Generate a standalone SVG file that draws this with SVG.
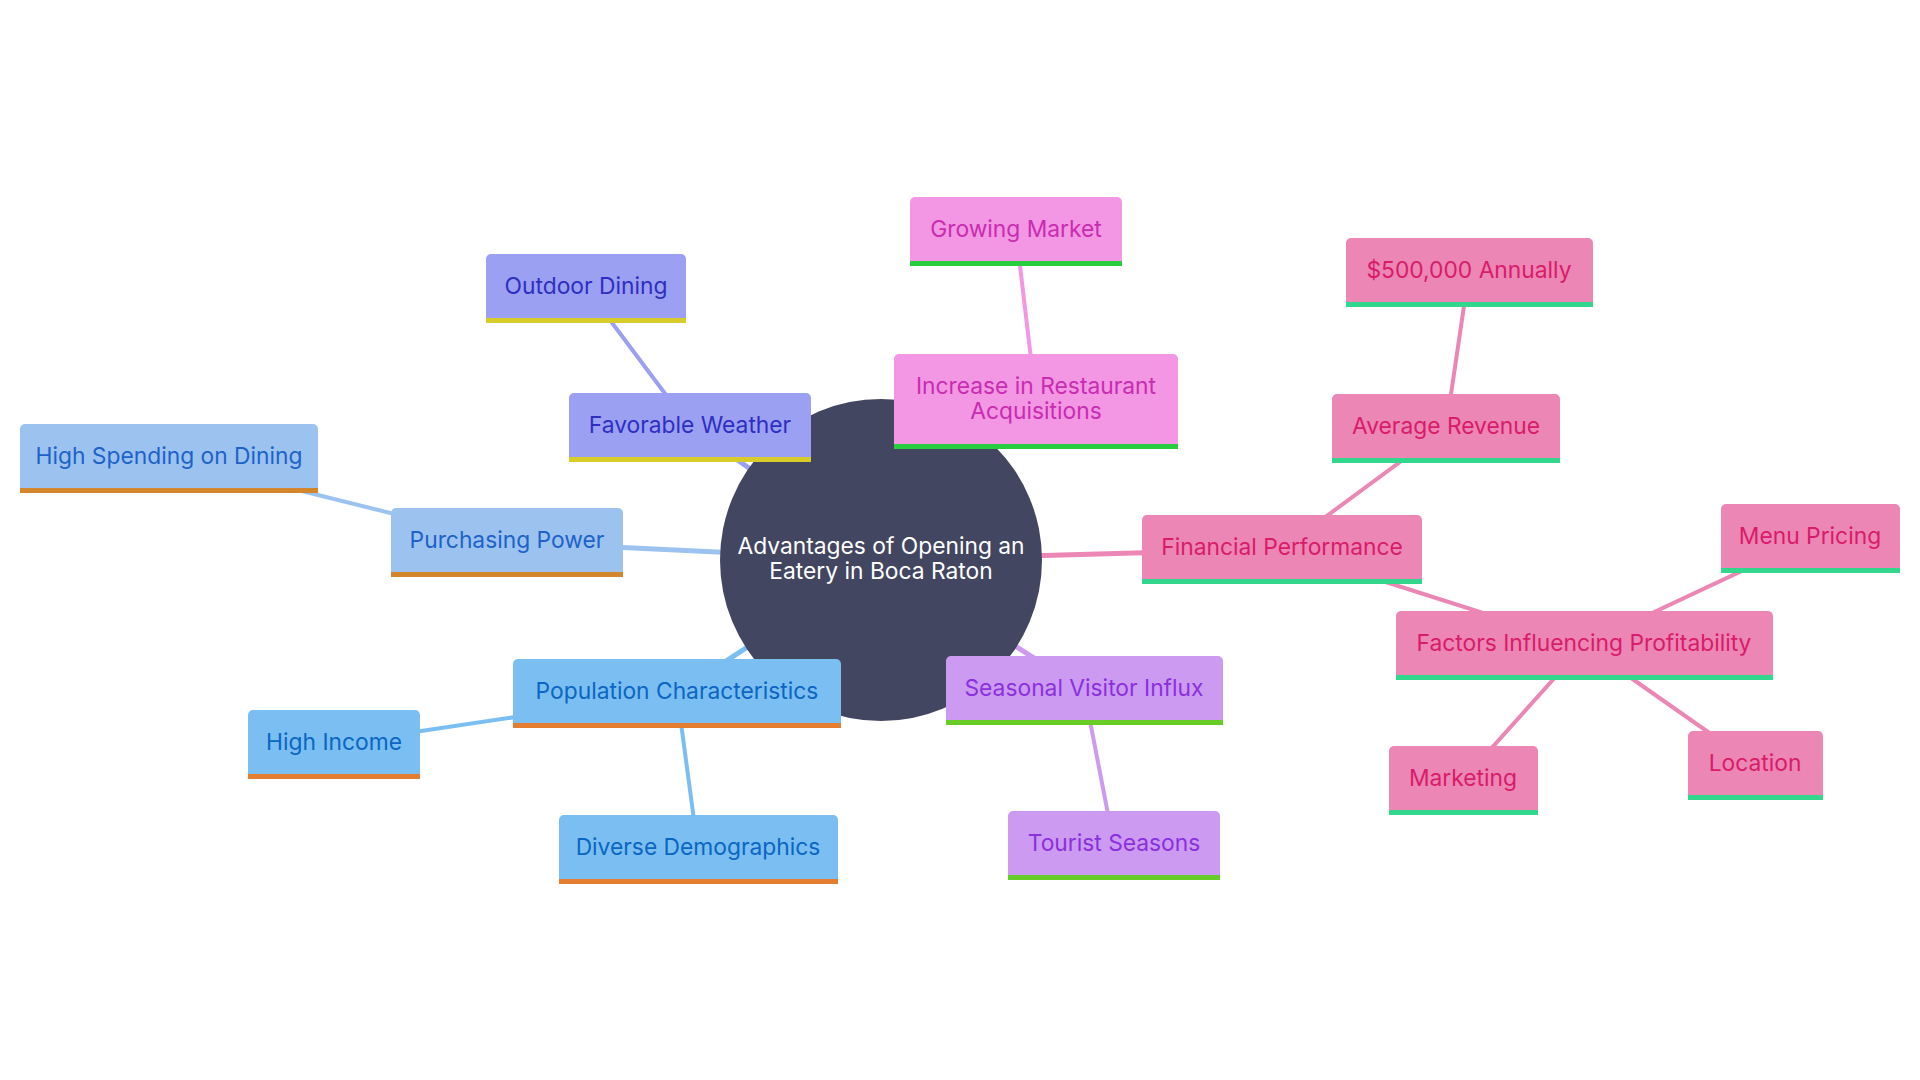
<svg xmlns="http://www.w3.org/2000/svg" width="1920" height="1080" viewBox="0 0 1920 1080">
<style>
text{font-family:Inter,"Open Sans","Liberation Sans",sans-serif;font-size:22.8px;text-anchor:middle;dominant-baseline:central}
.e1{stroke-width:5;stroke-linecap:round;fill:none}
.e2{stroke-width:4;stroke-linecap:round;fill:none}
.w .b{fill:#9ba0f2}.w .s{fill:#d7cc2a}.w text{fill:#2e2ec2}
.p .b{fill:#9cc3ef}.p .s{fill:#d4862d}.p text{fill:#1d62c8}
.c .b{fill:#7bbef2}.c .s{fill:#e57d30}.c text{fill:#0a66c2}
.a .b{fill:#f396e4}.a .s{fill:#27cc3f}.a text{fill:#c82cb0}
.f .b{fill:#ec86b4}.f .s{fill:#32d68c}.f text{fill:#d81b6a}
.v .b{fill:#cd9af2}.v .s{fill:#67cc25}.v text{fill:#8a30dc}
</style>
<rect width="1920" height="1080" fill="#ffffff"/>
<g id="connectors">
<line class="e1" x1="881" y1="560" x2="690" y2="427" stroke="#9ba0f2"/>
<line class="e1" x1="881" y1="560" x2="507" y2="542" stroke="#9cc3ef"/>
<line class="e1" x1="881" y1="560" x2="677" y2="693" stroke="#7bbef2"/>
<line class="e1" x1="881" y1="560" x2="1084" y2="690" stroke="#cd9af2"/>
<line class="e1" x1="881" y1="560" x2="1036" y2="401" stroke="#f396e4"/>
<line class="e1" x1="881" y1="560" x2="1282" y2="549" stroke="#ec86b4"/>
<line class="e2" x1="690" y1="427" x2="586" y2="288" stroke="#9ba0f2"/>
<line class="e2" x1="507" y1="542" x2="169" y2="458" stroke="#9cc3ef"/>
<line class="e2" x1="677" y1="693" x2="334" y2="744" stroke="#7bbef2"/>
<line class="e2" x1="677" y1="693" x2="698" y2="850" stroke="#7bbef2"/>
<line class="e2" x1="1084" y1="690" x2="1114" y2="845" stroke="#cd9af2"/>
<line class="e2" x1="1036" y1="401" x2="1016" y2="232" stroke="#f396e4"/>
<line class="e2" x1="1282" y1="549" x2="1446" y2="428" stroke="#ec86b4"/>
<line class="e2" x1="1446" y1="428" x2="1469" y2="272" stroke="#ec86b4"/>
<line class="e2" x1="1282" y1="549" x2="1584" y2="645" stroke="#ec86b4"/>
<line class="e2" x1="1584" y1="645" x2="1810" y2="539" stroke="#ec86b4"/>
<line class="e2" x1="1584" y1="645" x2="1463" y2="780" stroke="#ec86b4"/>
<line class="e2" x1="1584" y1="645" x2="1755" y2="765" stroke="#ec86b4"/>
</g>
<g id="root">
<circle cx="881" cy="560" r="161" fill="#424660"/>
<text x="881" y="545" fill="#ffffff">Advantages of Opening an</text>
<text x="881" y="570" fill="#ffffff">Eatery in Boca Raton</text>
</g>
<g id="favorable-weather" class="w"><rect class="b" x="569" y="393" width="242" height="69" rx="5"/><rect class="s" x="569" y="457" width="242" height="5"/><text x="690" y="424">Favorable Weather</text></g>
<g id="outdoor-dining" class="w"><rect class="b" x="486" y="254" width="200" height="69" rx="5"/><rect class="s" x="486" y="318" width="200" height="5"/><text x="586" y="285">Outdoor Dining</text></g>
<g id="purchasing-power" class="p"><rect class="b" x="391" y="508" width="232" height="69" rx="5"/><rect class="s" x="391" y="572" width="232" height="5"/><text x="507" y="539">Purchasing Power</text></g>
<g id="high-spending" class="p"><rect class="b" x="20" y="424" width="298" height="69" rx="5"/><rect class="s" x="20" y="488" width="298" height="5"/><text x="169" y="455">High Spending on Dining</text></g>
<g id="population" class="c"><rect class="b" x="513" y="659" width="328" height="69" rx="5"/><rect class="s" x="513" y="723" width="328" height="5"/><text x="677" y="690">Population Characteristics</text></g>
<g id="high-income" class="c"><rect class="b" x="248" y="710" width="172" height="69" rx="5"/><rect class="s" x="248" y="774" width="172" height="5"/><text x="334" y="741">High Income</text></g>
<g id="diverse" class="c"><rect class="b" x="559" y="815" width="279" height="69" rx="5"/><rect class="s" x="559" y="879" width="279" height="5"/><text x="698" y="846">Diverse Demographics</text></g>
<g id="seasonal" class="v"><rect class="b" x="946" y="656" width="277" height="69" rx="5"/><rect class="s" x="946" y="720" width="277" height="5"/><text x="1084" y="687">Seasonal Visitor Influx</text></g>
<g id="tourist" class="v"><rect class="b" x="1008" y="811" width="212" height="69" rx="5"/><rect class="s" x="1008" y="875" width="212" height="5"/><text x="1114" y="842">Tourist Seasons</text></g>
<g id="increase" class="a"><rect class="b" x="894" y="354" width="284" height="95" rx="5"/><rect class="s" x="894" y="444" width="284" height="5"/><text x="1036" y="385">Increase in Restaurant</text><text x="1036" y="410">Acquisitions</text></g>
<g id="growing" class="a"><rect class="b" x="910" y="197" width="212" height="69" rx="5"/><rect class="s" x="910" y="261" width="212" height="5"/><text x="1016" y="228">Growing Market</text></g>
<g id="financial" class="f"><rect class="b" x="1142" y="515" width="280" height="69" rx="5"/><rect class="s" x="1142" y="579" width="280" height="5"/><text x="1282" y="546">Financial Performance</text></g>
<g id="average" class="f"><rect class="b" x="1332" y="394" width="228" height="69" rx="5"/><rect class="s" x="1332" y="458" width="228" height="5"/><text x="1446" y="425">Average Revenue</text></g>
<g id="annual" class="f"><rect class="b" x="1346" y="238" width="247" height="69" rx="5"/><rect class="s" x="1346" y="302" width="247" height="5"/><text x="1469" y="269">$500,000 Annually</text></g>
<g id="factors" class="f"><rect class="b" x="1396" y="611" width="377" height="69" rx="5"/><rect class="s" x="1396" y="675" width="377" height="5"/><text x="1584" y="642">Factors Influencing Profitability</text></g>
<g id="menu" class="f"><rect class="b" x="1721" y="504" width="179" height="69" rx="5"/><rect class="s" x="1721" y="568" width="179" height="5"/><text x="1810" y="535">Menu Pricing</text></g>
<g id="marketing" class="f"><rect class="b" x="1389" y="746" width="149" height="69" rx="5"/><rect class="s" x="1389" y="810" width="149" height="5"/><text x="1463" y="777">Marketing</text></g>
<g id="location" class="f"><rect class="b" x="1688" y="731" width="135" height="69" rx="5"/><rect class="s" x="1688" y="795" width="135" height="5"/><text x="1755" y="762">Location</text></g>
</svg>
